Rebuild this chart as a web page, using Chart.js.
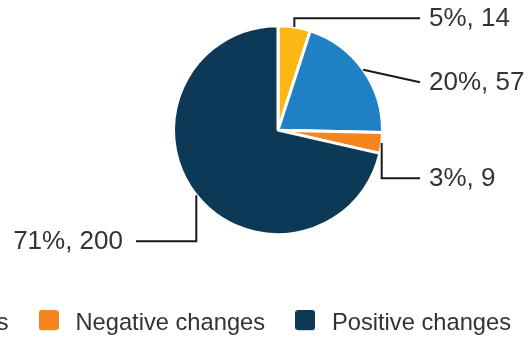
<!DOCTYPE html>
<html>
<head>
<meta charset="utf-8">
<script src="https://cdn.jsdelivr.net/npm/chart.js@4"></script>
<style>
  html, body { margin: 0; padding: 0; background: #fff; overflow: hidden; }
  body { width: 529px; height: 339px; position: relative; }
  #wrap { position: absolute; left: -500px; top: -26px; width: 1036px; height: 371px; }
</style>
</head>
<body>
<div id="wrap"><canvas id="pie" width="1036" height="371"></canvas></div>
<script>
const categories = ['Mixed changes', 'No changes', 'Negative changes', 'Positive changes'];
const counts = [14, 57, 9, 200];
const sliceColors = ['#FBB815', '#1F81C4', '#F5851F', '#0C3A56'];

const FONT = "'Liberation Sans', Arial, Helvetica, sans-serif";
const TEXT = '#333333';

// small rounded square used as the legend marker (sits a little above the text middle)
function swatch(color) {
  const c = document.createElement('canvas');
  c.width = 20; c.height = 26;
  const g = c.getContext('2d');
  g.fillStyle = color;
  g.beginPath();
  g.roundRect(0, 0, 20, 20, 3);
  g.fill();
  return c;
}

// leader lines + "pct%, n" labels outside the pie
const leaderLabels = {
  id: 'leaderLabels',
  afterDatasetsDraw(chart, args, opts) {
    const { ctx } = chart;
    const data = chart.data.datasets[0].data;
    const total = data.reduce((a, b) => a + b, 0);
    chart.getDatasetMeta(0).data.forEach((arc, i) => {
      const { x, y, startAngle, endAngle, outerRadius } =
        arc.getProps(['x', 'y', 'startAngle', 'endAngle', 'outerRadius'], true);
      const mid = (startAngle + endAngle) / 2;
      const r0 = outerRadius + opts.gap;
      const px = x + Math.cos(mid) * r0;
      const py = y + Math.sin(mid) * r0;
      const right = Math.cos(mid) >= 0;
      const ly = y + opts.labelDy[i];
      const lx = x + (right ? opts.reach : -opts.reach);

      ctx.save();
      ctx.strokeStyle = '#1a1a1a';
      ctx.lineWidth = 2;
      ctx.beginPath();
      ctx.moveTo(px, py);
      if (opts.elbow[i]) ctx.lineTo(px, ly);
      ctx.lineTo(lx, ly);
      ctx.stroke();

      const pct = Math.round(data[i] / total * 100);
      ctx.fillStyle = TEXT;
      ctx.font = `26px ${FONT}`;
      ctx.textBaseline = 'middle';
      ctx.textAlign = right ? 'left' : 'right';
      ctx.fillText(`${pct}%, ${data[i]}`, right ? lx + 9 : lx - 13, ly + 1);
      ctx.restore();
    });
  }
};

new Chart(document.getElementById('pie'), {
  type: 'pie',
  data: {
    labels: categories,
    datasets: [{
      data: counts,
      backgroundColor: sliceColors,
      borderColor: '#ffffff',
      borderWidth: 3,
      radius: 104.5
    }]
  },
  options: {
    responsive: false,
    animation: false,
    devicePixelRatio: 1,
    layout: { padding: 0 },
    plugins: {
      // blank left box, only there to push the pie right of the legend's centre
      title: {
        display: true,
        text: ' ',
        position: 'left',
        fullSize: false,
        font: { size: 12, lineHeight: 1 },
        padding: { top: 508, bottom: 0 }
      },
      legend: {
        position: 'bottom',
        align: 'end',
        labels: {
          usePointStyle: true,
          pointStyleWidth: 30,
          boxHeight: 20,
          padding: 25,
          color: TEXT,
          font: { family: FONT, size: 23.7 },
          generateLabels: chart => chart.data.labels.map((text, i) => ({
            text,
            index: i,
            hidden: false,
            fontColor: TEXT,
            lineWidth: 0,
            pointStyle: swatch(sliceColors[i])
          }))
        }
      },
      tooltip: { enabled: false },
      leaderLabels: {
        gap: 0,
        reach: 142,
        labelDy: [-112, -48, 48, 111],
        elbow: [true, false, true, true]
      }
    }
  },
  plugins: [leaderLabels]
});
</script>
</body>
</html>
